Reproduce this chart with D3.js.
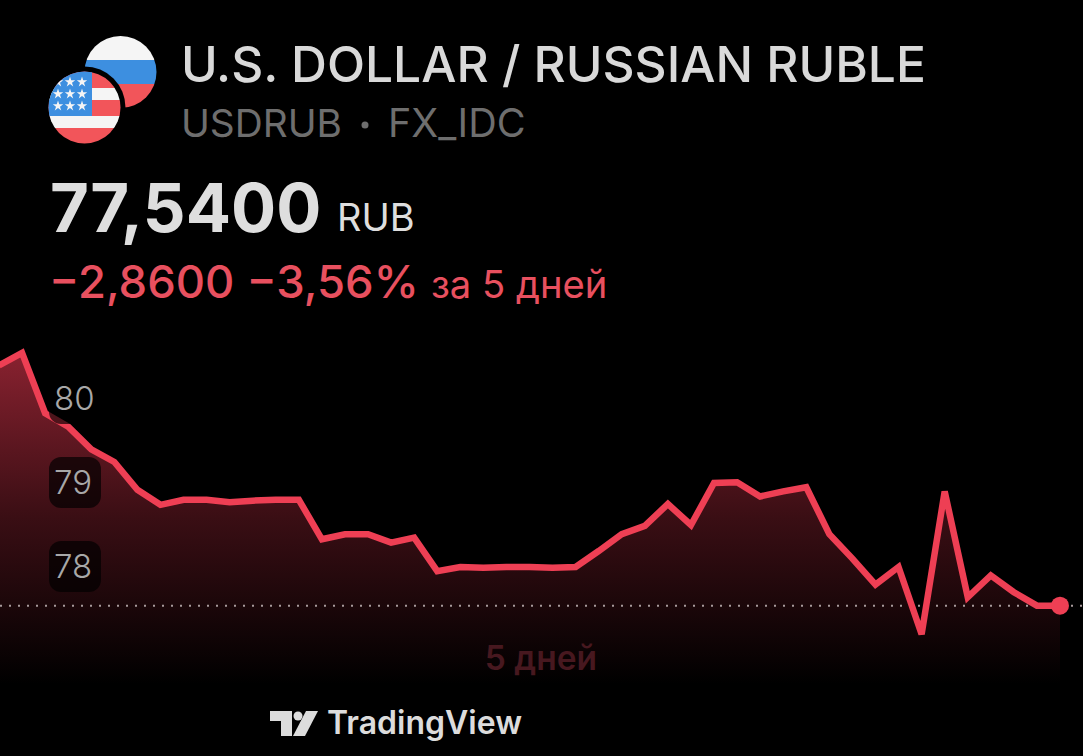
<!DOCTYPE html>
<html>
<head>
<meta charset="utf-8">
<title>USDRUB</title>
<script src="https://d3js.org/d3.v7.min.js"></script>
<style>
    html, body { margin: 0; height: 100%; background: #000; overflow: hidden; }
    svg { display: block; }
    text { font-family: Inter, "Noto Sans", sans-serif; }
</style>
</head>
<body>
<script>
    var w = 1083;
    var h = 756;

    // USD/RUB close
    var values = [80.40, 80.55, 79.83, 79.67, 79.40, 79.25, 78.92, 78.74, 78.80, 78.80,
                  78.77, 78.79, 78.80, 78.80, 78.33, 78.39, 78.39, 78.29, 78.35, 77.95,
                  78.00, 77.99, 78.00, 78.00, 77.99, 78.00, 78.19, 78.39, 78.49, 78.75,
                  78.50, 79.00, 79.01, 78.84, 78.90, 78.95, 78.39, 78.10, 77.79, 78.00,
                  77.20, 78.90, 77.64, 77.90, 77.70, 77.54, 77.54];
    var yTicks = [80, 79, 78];
    var lastPrice = 77.54;

    var red = '#ee3f54';
    var textRed = '#e8505f';

    var svg = d3.select('body').append('svg')
        .attr('width', w)
        .attr('height', h);

    var x = d3.scaleLinear().domain([0, values.length - 1]).range([-1, 1060]);
    var y = d3.scaleLinear().domain([80, 78]).range([399, 567]);
    var areaBottom = 684;

    var defs = svg.append('defs');

    var grad = defs.append('linearGradient')
        .attr('id', 'areaFill')
        .attr('gradientUnits', 'userSpaceOnUse')
        .attr('x1', 0).attr('x2', 0)
        .attr('y1', 350).attr('y2', areaBottom);
    grad.append('stop').attr('offset', 0).attr('stop-color', '#8a2230');
    grad.append('stop').attr('offset', 0.5).attr('stop-color', '#3a0e14');
    grad.append('stop').attr('offset', 1).attr('stop-color', '#000');

    /* AREA + LINE */

    var area = d3.area()
        .x(function(d, i) { return x(i); })
        .y0(areaBottom)
        .y1(function(d) { return y(d); });

    var line = d3.line()
        .x(function(d, i) { return x(i); })
        .y(function(d) { return y(d); });

    svg.append('path')
        .datum(values)
        .attr('d', area)
        .attr('fill', 'url(#areaFill)');

    // dotted line at the last price
    svg.append('line')
        .attr('x1', 0).attr('x2', w)
        .attr('y1', y(lastPrice)).attr('y2', y(lastPrice))
        .attr('stroke', '#a89a9c')
        .attr('stroke-width', 2)
        .attr('stroke-dasharray', '2 7');

    svg.append('path')
        .datum(values)
        .attr('d', line)
        .attr('fill', 'none')
        .attr('stroke', red)
        .attr('stroke-width', 6.5)
        .attr('stroke-linejoin', 'miter')
        .attr('stroke-miterlimit', 3);

    svg.append('circle')
        .attr('cx', x(values.length - 1))
        .attr('cy', y(lastPrice))
        .attr('r', 9)
        .attr('fill', red);

    /* Y TICKS */

    svg.selectAll('.badge')
        .data(yTicks)
        .enter()
        .append('rect')
        .attr('class', 'badge')
        .attr('x', 49)
        .attr('y', function(d) { return y(d) - 26; })
        .attr('width', 52)
        .attr('height', 51)
        .attr('rx', 12)
        .attr('fill', '#000')
        .attr('fill-opacity', 0.68);

    var yAxis = d3.axisRight(y)
        .tickValues(yTicks)
        .tickSize(0)
        .tickPadding(0)
        .tickFormat(d3.format('d'));

    var axisG = svg.append('g')
        .attr('transform', 'translate(54,0)')
        .call(yAxis);
    axisG.select('.domain').remove();
    axisG.selectAll('text')
        .attr('font-size', 33)
        .attr('font-family', 'Inter, sans-serif')
        .attr('font-weight', 300)
        .attr('fill', '#a8a8a8');

    svg.append('text')
        .attr('x', 541).attr('y', 670)
        .attr('text-anchor', 'middle')
        .attr('font-size', 33.5)
        .attr('font-weight', 600)
        .attr('fill', '#47181f')
        .text('5 дней');

    /* HEADER */

    svg.append('text')
        .attr('x', 181).attr('y', 82)
        .attr('font-size', 49.7)
        .attr('font-weight', 500)
        .attr('fill', '#d9d9d9')
        .text('U.S. DOLLAR / RUSSIAN RUBLE');

    svg.append('text')
        .attr('x', 181).attr('y', 137)
        .attr('font-size', 38.8)
        .attr('fill', '#6e6e6e')
        .text('USDRUB');

    svg.append('text')
        .attr('x', 388).attr('y', 137)
        .attr('font-size', 39.5)
        .attr('fill', '#6e6e6e')
        .text('FX_IDC');

    svg.append('circle')
        .attr('cx', 365).attr('cy', 125).attr('r', 3.5)
        .attr('fill', '#6e6e6e');

    svg.append('text')
        .attr('x', 50).attr('y', 232)
        .attr('font-size', 67)
        .attr('font-weight', 700)
        .attr('fill', '#dedede')
        .text('77,5400');

    svg.append('text')
        .attr('x', 337).attr('y', 231)
        .attr('font-size', 38)
        .attr('fill', '#dedede')
        .text('RUB');

    svg.append('text')
        .attr('x', 49).attr('y', 298)
        .attr('font-size', 45.4)
        .attr('font-weight', 500)
        .attr('fill', textRed)
        .text('−2,8600 −3,56%');

    svg.append('text')
        .attr('x', 431).attr('y', 298)
        .attr('font-size', 38.2)
        .attr('fill', textRed)
        .text('за 5 дней');

    /* FLAGS */

    defs.append('clipPath').attr('id', 'ruClip')
        .append('circle').attr('cx', 120.5).attr('cy', 72).attr('r', 36);
    defs.append('clipPath').attr('id', 'usClip')
        .append('circle').attr('cx', 84.5).attr('cy', 107.5).attr('r', 36);

    var ru = svg.append('g').attr('clip-path', 'url(#ruClip)');
    ru.selectAll('rect')
        .data([[30, 30, '#f5f5f5'], [60, 24, '#3d8fe0'], [84, 30, '#f2555a']])
        .enter()
        .append('rect')
        .attr('x', 80).attr('width', 80)
        .attr('y', function(d) { return d[0]; })
        .attr('height', function(d) { return d[1]; })
        .attr('fill', function(d) { return d[2]; });

    svg.append('circle')
        .attr('cx', 84.5).attr('cy', 107.5).attr('r', 41)
        .attr('fill', '#000');

    var us = svg.append('g').attr('clip-path', 'url(#usClip)');
    us.selectAll('rect')
        .data([[70, 18, '#f2555a'], [88, 12, '#f5f5f5'], [100, 16, '#f2555a'], [116, 12, '#f5f5f5'], [128, 18, '#f2555a']])
        .enter()
        .append('rect')
        .attr('x', 45).attr('width', 80)
        .attr('y', function(d) { return d[0]; })
        .attr('height', function(d) { return d[1]; })
        .attr('fill', function(d) { return d[2]; });
    us.append('rect')
        .attr('x', 45).attr('y', 70)
        .attr('width', 47).attr('height', 46)
        .attr('fill', '#3d8fe0');

    var star = d3.symbol().type(d3.symbolStar).size(34);
    [58, 70, 82].forEach(function(sx) {
        [82, 94, 106].forEach(function(sy) {
            us.append('path')
                .attr('d', star)
                .attr('transform', 'translate(' + sx + ',' + sy + ')')
                .attr('fill', '#f5f5f5');
        });
    });

    /* LOGO */

    var logo = svg.append('g').attr('fill', '#dcdcdc');
    logo.append('path').attr('d', 'M270 711 H292 V736 H281 V721 H270 Z');
    logo.append('circle').attr('cx', 298).attr('cy', 716).attr('r', 4.5);
    logo.append('path').attr('d', 'M306 711 H318 L305 736 H293 Z');

    svg.append('text')
        .attr('x', 327).attr('y', 734)
        .attr('font-size', 32)
        .attr('font-weight', 600)
        .attr('fill', '#dcdcdc')
        .text('TradingView');
</script>
</body>
</html>
